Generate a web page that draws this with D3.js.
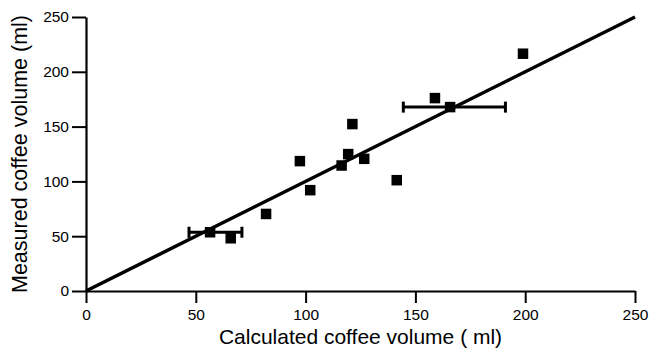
<!DOCTYPE html>
<html>
<head>
<meta charset="utf-8">
<script src="https://cdn.jsdelivr.net/npm/d3@7"></script>
<style>
  body { margin: 0; background: #fff; }
  svg { display: block; font-family: "Liberation Sans", Arial, Helvetica, sans-serif; }
</style>
</head>
<body>
<svg id="chart"></svg>
<script>
// values
const calculated = [56.5, 65.9, 82, 97.4, 102.1, 116.4, 119.4, 121.3, 126.7, 141.5, 158.9, 165.8, 199];
const measured   = [53.6, 48.1, 70.3, 118.5, 92, 114.5, 124.9, 152.3, 120.6, 101.1, 176, 167.8, 216.5];
// horizontal error bars: [y, low x, high x]
const errY    = [53.6, 167.8];
const errLow  = [46.9, 144.5];
const errHigh = [71, 191];
const identityLine = [0, 250];
const tickValues = [0, 50, 100, 150, 200, 250];

const width = 650, height = 350;
const margin = {top: 17, right: 15, bottom: 59, left: 86};

const svg = d3.select('#chart')
    .attr('width', width)
    .attr('height', height);

const x = d3.scaleLinear().domain([0, 250]).range([margin.left, width - margin.right]);
const y = d3.scaleLinear().domain([0, 250]).range([height - margin.bottom, margin.top]);

// axes
const gx = svg.append('g')
    .attr('transform', `translate(0,${y(0)})`)
    .call(d3.axisBottom(x).tickValues(tickValues).tickSize(12).tickPadding(6).tickSizeOuter(0));
const gy = svg.append('g')
    .attr('transform', `translate(${x(0)},0)`)
    .call(d3.axisLeft(y).tickValues(tickValues).tickSize(14).tickPadding(3).tickSizeOuter(0));

[gx, gy].forEach(g => {
    g.select('.domain').attr('stroke', '#000').attr('stroke-width', 2.2);
    g.selectAll('.tick line').attr('stroke', '#000').attr('stroke-width', 2);
    g.selectAll('.tick text').attr('fill', '#000').style('font-size', '15.5px');
});

// identity line
svg.append('line')
    .attr('x1', x(identityLine[0])).attr('y1', y(identityLine[0]))
    .attr('x2', x(identityLine[1])).attr('y2', y(identityLine[1]))
    .attr('stroke', '#000')
    .attr('stroke-width', 3.5);

// error bars
const errs = errY.map((v, i) => ({y: v, lo: errLow[i], hi: errHigh[i]}));
const eb = svg.append('g').attr('stroke', '#000').attr('stroke-width', 3);
eb.selectAll('line.bar')
    .data(errs)
    .join('line')
    .attr('class', 'bar')
    .attr('x1', d => x(d.lo)).attr('x2', d => x(d.hi))
    .attr('y1', d => y(d.y)).attr('y2', d => y(d.y));
eb.selectAll('line.cap')
    .data(errs.flatMap(d => [{x: d.lo, y: d.y}, {x: d.hi, y: d.y}]))
    .join('line')
    .attr('class', 'cap')
    .attr('x1', d => x(d.x)).attr('x2', d => x(d.x))
    .attr('y1', d => y(d.y) - 5.5).attr('y2', d => y(d.y) + 5.5);

// data points
const s = 10.5;
svg.append('g')
    .selectAll('rect')
    .data(calculated.map((c, i) => ({c, m: measured[i]})))
    .join('rect')
    .attr('x', d => x(d.c) - s / 2)
    .attr('y', d => y(d.m) - s / 2)
    .attr('width', s)
    .attr('height', s)
    .attr('fill', '#000');

// axis titles
svg.append('text')
    .attr('x', (x(0) + x(250)) / 2)
    .attr('y', 344)
    .attr('text-anchor', 'middle')
    .style('font-size', '21px')
    .text('Calculated coffee volume ( ml)');

svg.append('text')
    .attr('transform', `translate(27,${(y(0) + y(250)) / 2}) rotate(-90)`)
    .attr('text-anchor', 'middle')
    .style('font-size', '21.5px')
    .text('Measured coffee volume (ml)');
</script>
</body>
</html>
